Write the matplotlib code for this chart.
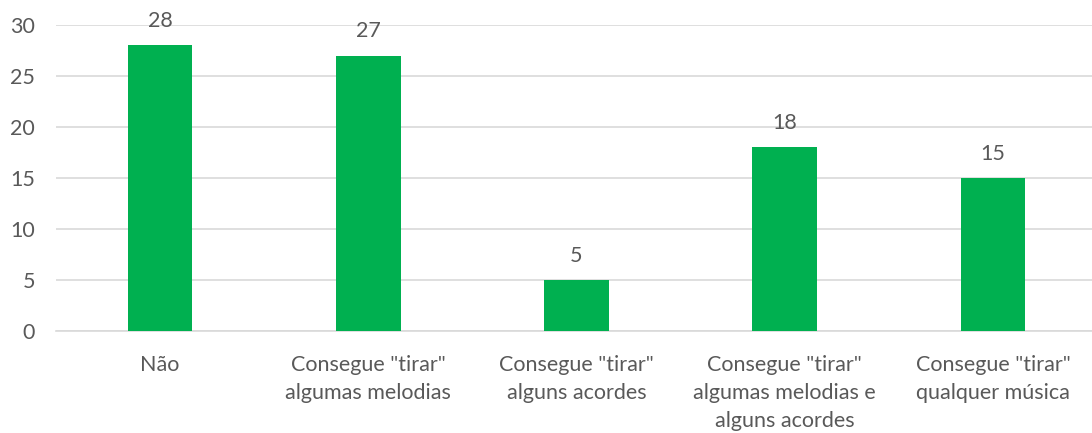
import matplotlib
matplotlib.use("Agg")
import matplotlib.pyplot as plt

# data
categories = [
    'Não',
    'Consegue "tirar"\nalgumas melodias',
    'Consegue "tirar"\nalguns acordes',
    'Consegue "tirar"\nalgumas melodias e\nalguns acordes',
    'Consegue "tirar"\nqualquer música',
]
counts = [28, 27, 5, 18, 15]
y_ticks = [0, 5, 10, 15, 20, 25, 30]

text_color = '#595959'
bar_color = '#00B050'
grid_color = '#D9D9D9'
fs = 15.5

plt.rcParams['font.family'] = ['Lato', 'DejaVu Sans']

fig = plt.figure(figsize=(10.92, 4.33), dpi=100)
fig.patch.set_facecolor('white')
ax = fig.add_axes([56 / 1092, (433 - 331) / 433, 1041 / 1092, 306 / 433])

x = list(range(len(categories)))
bars = ax.bar(x, counts, width=0.31, color=bar_color, zorder=3)

# value labels above the bars
for rect, val in zip(bars, counts):
    ax.text(rect.get_x() + rect.get_width() / 2, val + 1.8, str(val),
            ha='center', va='baseline', fontsize=fs, color=text_color)

ax.set_xlim(-0.5, len(categories) - 0.5)
ax.set_ylim(0, 30)
ax.set_yticks(y_ticks)
ax.set_xticks(x)
ax.set_xticklabels(categories, fontsize=fs, color=text_color, linespacing=1.5)
ax.tick_params(axis='y', labelsize=fs, labelcolor=text_color, length=0, pad=15)
ax.tick_params(axis='x', length=0, pad=17)

ax.grid(axis='y', color=grid_color, linewidth=1.2, zorder=0)
for side in ['top', 'right', 'left']:
    ax.spines[side].set_visible(False)
ax.spines['bottom'].set_color(grid_color)
ax.spines['bottom'].set_linewidth(1.2)

fig.savefig('out.png', dpi=100, facecolor='white')
